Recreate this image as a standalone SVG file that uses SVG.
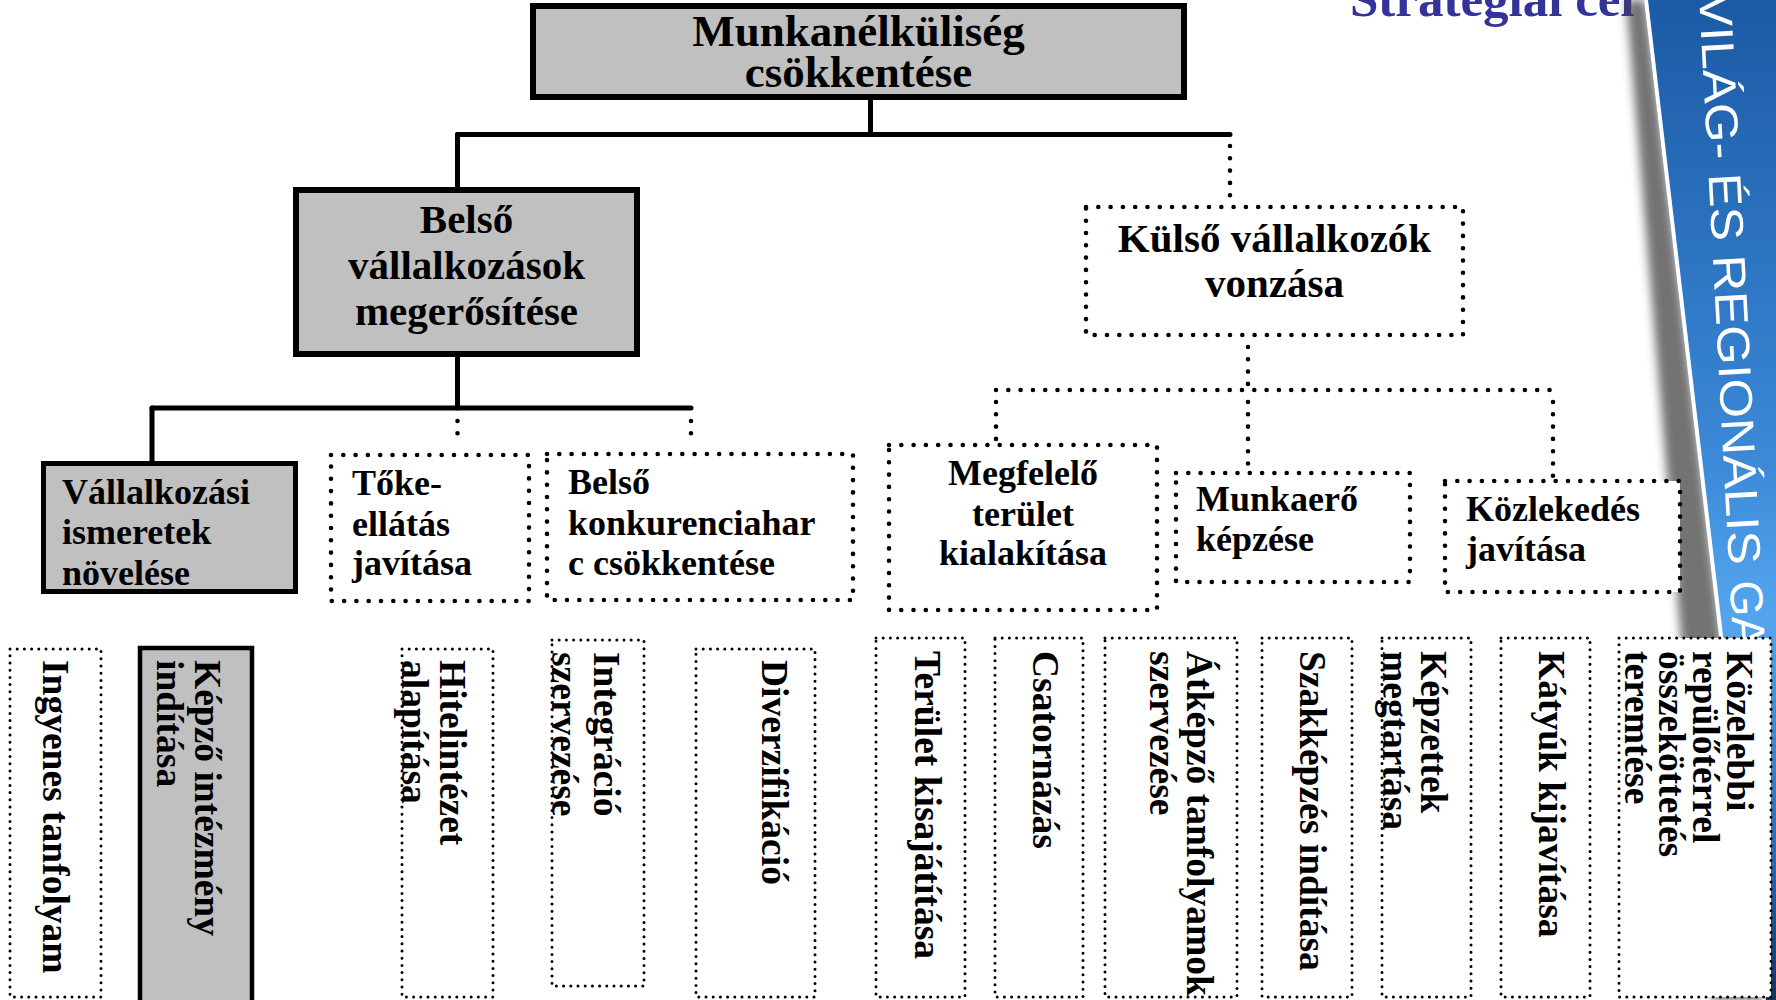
<svg xmlns="http://www.w3.org/2000/svg" width="1776" height="1000" viewBox="0 0 1776 1000">
<defs>
<style>
.solid{fill:#c0c0c0;stroke:#000;stroke-width:6}
.solid4{fill:#c0c0c0;stroke:#000;stroke-width:4.5}
.dot{fill:#fff;stroke:#000;stroke-width:4.6;stroke-dasharray:0 12.3;stroke-linecap:round}
.fine{fill:#fff;stroke:#000;stroke-width:3;stroke-dasharray:0 7.2;stroke-linecap:round}
.t{font-family:"Liberation Serif","Times New Roman",serif;font-weight:bold;fill:#000}
.l1{font-size:45px}
.l2{font-size:41px}
.l3{font-size:36px}
.v{font-size:37.5px}
.c{text-anchor:middle}
.conn{stroke:#000;stroke-width:5;fill:none;stroke-linecap:round}
.dconn{stroke:#000;stroke-width:4.6;stroke-dasharray:0 12.3;stroke-linecap:round;fill:none}
.ban{font-family:"Liberation Sans Narrow","Liberation Sans",Arial,sans-serif;font-size:46px;fill:#fff}
</style>
<linearGradient id="blue" x1="0" y1="0" x2="0" y2="1">
<stop offset="0" stop-color="#1c5aa5"/>
<stop offset="0.45" stop-color="#3a88d6"/>
<stop offset="0.62" stop-color="#55a5ee"/>
<stop offset="0.85" stop-color="#2d6cb4"/>
<stop offset="1" stop-color="#14335f"/>
</linearGradient>
<filter id="blur" x="-50%" y="-10%" width="200%" height="120%">
<feGaussianBlur stdDeviation="5"/>
</filter>
</defs>
<rect width="1776" height="1000" fill="#fff"/>

<text class="t" x="1350" y="16" font-size="51" style="fill:#333399">Stratégiai cél</text>

<g id="banner">
<polygon points="1626,0 1646,0 1764,1000 1712,1000" fill="#444" opacity="0.75" filter="url(#blur)"/>
<polygon points="1644,0 1776,0 1776,1000 1762,1000" fill="url(#blue)"/>
<line x1="1646" y1="0" x2="1764" y2="1000" stroke="#fff" stroke-width="4"/>
<g transform="translate(1699,-6) rotate(87)">
<text class="ban" x="0" y="0" textLength="572" lengthAdjust="spacingAndGlyphs">VILÁG- ÉS REGIONÁLIS</text>
<text class="ban" x="588" y="0">GA</text>
</g>
</g>

<g id="connectors">
<line class="conn" x1="870.5" y1="100" x2="870.5" y2="134.5"/>
<line class="conn" x1="457.5" y1="134.5" x2="1230" y2="134.5"/>
<line class="conn" x1="457.5" y1="134.5" x2="457.5" y2="188"/>
<line class="dconn" x1="1230" y1="146" x2="1230" y2="200"/>
<line class="conn" x1="457.5" y1="357" x2="457.5" y2="408"/>
<line class="conn" x1="152" y1="408" x2="691" y2="408"/>
<line class="conn" x1="152" y1="408" x2="152" y2="462"/>
<line class="dconn" x1="457.5" y1="421" x2="457.5" y2="434"/>
<line class="dconn" x1="691" y1="421" x2="691" y2="434"/>
<line class="dconn" x1="1248" y1="347" x2="1248" y2="390"/>
<line class="dconn" x1="996" y1="390" x2="1553" y2="390"/>
<line class="dconn" x1="996" y1="402" x2="996" y2="440"/>
<line class="dconn" x1="1248" y1="402" x2="1248" y2="468"/>
<line class="dconn" x1="1553" y1="402" x2="1553" y2="476"/>
</g>

<g id="n-munkanelkuliseg">
<rect class="solid" x="533" y="6" width="651" height="91"/>
<text class="t l1 c" x="858.5" y="46">Munkanélküliség<tspan x="858.5" dy="41">csökkentése</tspan></text>
</g>

<g id="n-belso">
<rect class="solid" x="296" y="190" width="341" height="164"/>
<text class="t l2 c" x="466.5" y="233">Belső<tspan x="466.5" dy="46">vállalkozások</tspan><tspan x="466.5" dy="46">megerősítése</tspan></text>
</g>

<g id="n-kulso">
<rect class="dot" x="1086" y="207" width="377" height="128"/>
<text class="t l2 c" x="1274.5" y="252">Külső vállalkozók<tspan x="1274.5" dy="45">vonzása</tspan></text>
</g>

<g id="n-vallalkozasi">
<rect class="solid" x="43.5" y="463.5" width="252" height="128" style="stroke-width:5"/>
<text class="t l3" x="62" y="504">Vállalkozási<tspan x="62" dy="40">ismeretek</tspan><tspan x="62" dy="41">növelése</tspan></text>
</g>

<g id="n-toke">
<rect class="dot" x="331" y="455" width="198" height="146"/>
<text class="t l3" x="352" y="495">Tőke-<tspan x="352" dy="41">ellátás</tspan><tspan x="352" dy="39">javítása</tspan></text>
</g>

<g id="n-konkurencia">
<rect class="dot" x="547" y="454" width="306" height="146"/>
<text class="t l3" x="568" y="494">Belső<tspan x="568" dy="41">konkurenciahar</tspan><tspan x="568" dy="40">c csökkentése</tspan></text>
</g>

<g id="n-megfelelo">
<rect class="dot" x="889" y="445" width="268" height="165"/>
<text class="t l3 c" x="1023" y="485">Megfelelő<tspan x="1023" dy="41">terület</tspan><tspan x="1023" dy="39">kialakítása</tspan></text>
</g>

<g id="n-munkaero">
<rect class="dot" x="1176" y="473" width="234" height="109"/>
<text class="t l3" x="1196" y="511">Munkaerő<tspan x="1196" dy="40">képzése</tspan></text>
</g>

<g id="n-kozlekedes">
<rect class="dot" x="1445" y="481" width="235" height="111"/>
<text class="t l3" x="1466" y="521">Közlekedés<tspan x="1466" dy="40">javítása</tspan></text>
</g>

<g id="n-ingyenes">
<rect class="fine" x="10" y="649" width="91" height="348"/>
<text class="t v" transform="translate(43,660) rotate(90)">Ingyenes tanfolyam</text>
</g>

<g id="n-kepzo">
<rect class="solid4" x="140" y="648" width="112" height="360"/>
<text class="t v" transform="translate(195,660) rotate(90)">Képző intézmény<tspan x="0" dy="38">indítása</tspan></text>
</g>

<g id="n-hitelintezet">
<rect class="fine" x="402" y="649" width="91" height="348"/>
<text class="t v" transform="translate(440,660) rotate(90)">Hitelintézet<tspan x="0" dy="38">alapítása</tspan></text>
</g>

<g id="n-integracio">
<rect class="fine" x="552" y="640" width="92" height="346"/>
<text class="t v" transform="translate(594,652) rotate(90)">Integráció<tspan x="0" dy="42">szervezése</tspan></text>
</g>

<g id="n-diverzifikacio">
<rect class="fine" x="696" y="649" width="119" height="348"/>
<text class="t v" transform="translate(762,660) rotate(90)">Diverzifikáció</text>
</g>

<g id="n-terulet">
<rect class="fine" x="876" y="638" width="89" height="359"/>
<text class="t v" transform="translate(915,651) rotate(90)">Terület kisajátítása</text>
</g>

<g id="n-csatornazas">
<rect class="fine" x="995" y="638" width="88" height="359"/>
<text class="t v" transform="translate(1033,651) rotate(90)">Csatornázás</text>
</g>

<g id="n-atkepzo">
<rect class="fine" x="1105" y="638" width="132" height="359"/>
<text class="t v" transform="translate(1187,651) rotate(90)">Átképző tanfolyamok<tspan x="0" dy="37">szervezése</tspan></text>
</g>

<g id="n-szakkepzes">
<rect class="fine" x="1262" y="638" width="90" height="359"/>
<text class="t v" transform="translate(1300,651) rotate(90)">Szakképzés indítása</text>
</g>

<g id="n-kepzettek">
<rect class="fine" x="1382" y="638" width="89" height="359"/>
<text class="t v" transform="translate(1421,651) rotate(90)">Képzettek<tspan x="0" dy="38">megtartása</tspan></text>
</g>

<g id="n-katyuk">
<rect class="fine" x="1501" y="638" width="89" height="359"/>
<text class="t v" transform="translate(1539,651) rotate(90)">Kátyúk kijavítása</text>
</g>

<g id="n-kozelebbi">
<rect class="fine" x="1619" y="638" width="152" height="359"/>
<text class="t v" transform="translate(1727,651) rotate(90)">Közelebbi<tspan x="0" dy="34">repülőtérrel</tspan><tspan x="0" dy="34">összeköttetés</tspan><tspan x="0" dy="34">teremtése</tspan></text>
</g>
</svg>
